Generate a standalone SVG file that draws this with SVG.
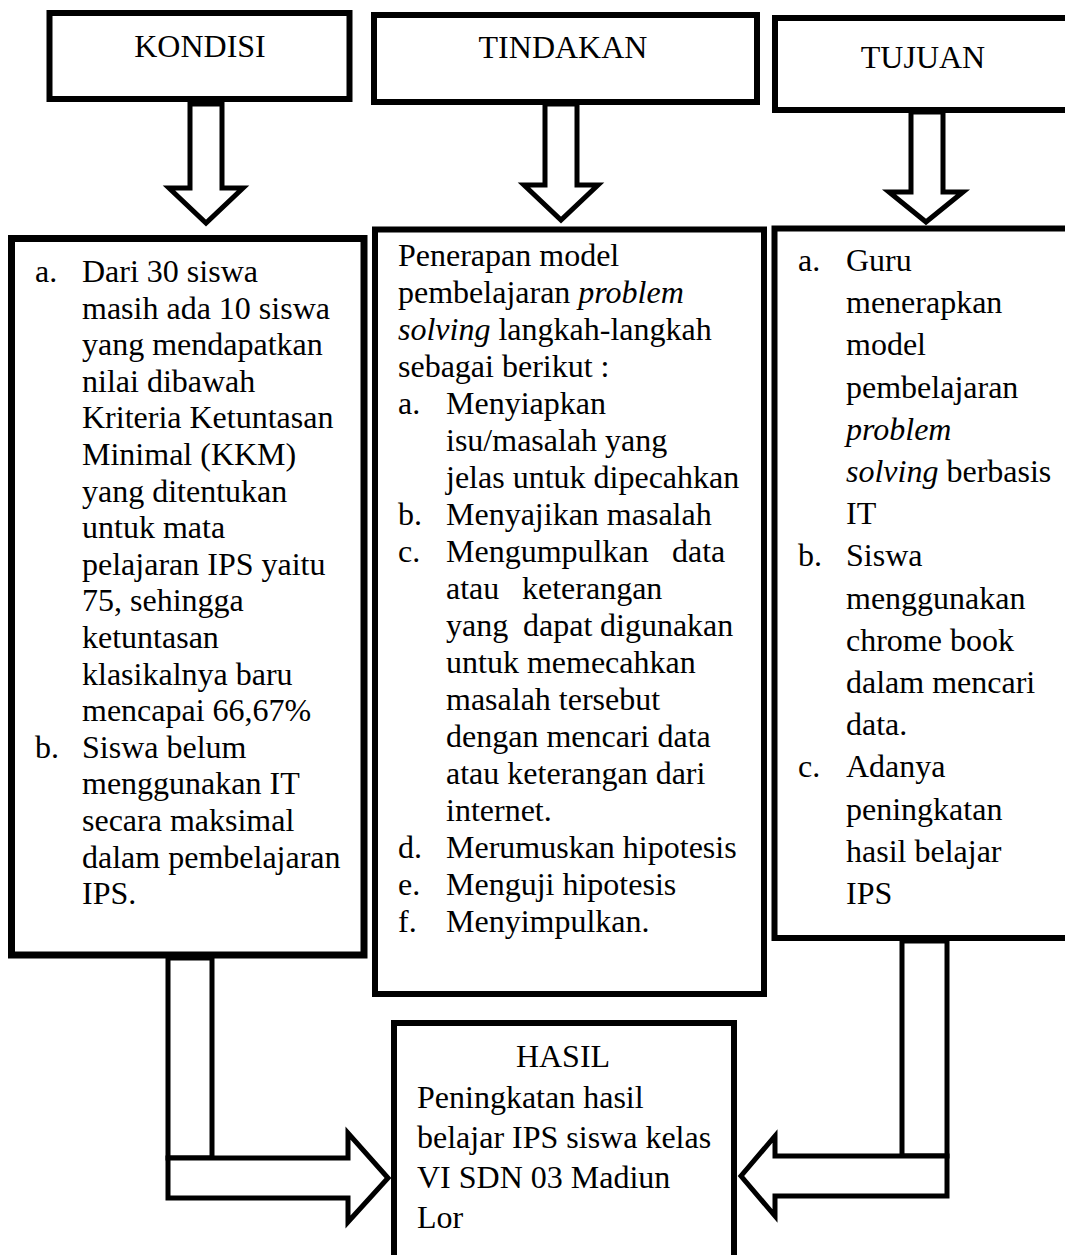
<svg xmlns="http://www.w3.org/2000/svg" width="1065" height="1255" viewBox="0 0 1065 1255">
<style>
.box{fill:#fff;stroke:#000;stroke-width:6}
.arrow{fill:#fff;stroke:#000;stroke-width:5;stroke-linejoin:miter}
text{font-family:"Liberation Serif","Times New Roman",serif;font-size:32px;fill:#000}
.c{text-anchor:middle}
.i{font-style:italic}
</style>
<rect width="1065" height="1255" fill="#fff"/>
<g id="kondisi">
<rect class="box" x="49.5" y="13" width="300" height="86"/>
<text class="c" x="200" y="57">KONDISI</text>
</g>
<g id="tindakan">
<rect class="box" x="374" y="15" width="383" height="87"/>
<text class="c" x="563" y="58">TINDAKAN</text>
</g>
<g id="tujuan">
<rect class="box" x="775" y="18" width="300" height="92"/>
<text class="c" x="923" y="68">TUJUAN</text>
</g>
<g id="kondisi-detail">
<rect class="box" style="stroke-width:7" x="11.5" y="238.5" width="352.5" height="716.5"/>
<text x="35" y="282">a.</text>
<text x="82" y="282">Dari 30 siswa</text>
<text x="82" y="318.6">masih ada 10 siswa</text>
<text x="82" y="355.2">yang mendapatkan</text>
<text x="82" y="391.8">nilai dibawah</text>
<text x="82" y="428.4">Kriteria Ketuntasan</text>
<text x="82" y="465">Minimal (KKM)</text>
<text x="82" y="501.6">yang ditentukan</text>
<text x="82" y="538.2">untuk mata</text>
<text x="82" y="574.8">pelajaran IPS yaitu</text>
<text x="82" y="611.4">75, sehingga</text>
<text x="82" y="648">ketuntasan</text>
<text x="82" y="684.6">klasikalnya baru</text>
<text x="82" y="721.2">mencapai 66,67%</text>
<text x="35" y="757.8">b.</text>
<text x="82" y="757.8">Siswa belum</text>
<text x="82" y="794.4">menggunakan IT</text>
<text x="82" y="831">secara maksimal</text>
<text x="82" y="867.6">dalam pembelajaran</text>
<text x="82" y="904.2">IPS.</text>
</g>
<g id="tindakan-detail">
<rect class="box" x="375" y="229.5" width="389" height="764.5"/>
<text x="398" y="266">Penerapan model</text>
<text x="398" y="303">pembelajaran <tspan class="i">problem</tspan></text>
<text x="398" y="340"><tspan class="i">solving</tspan> langkah-langkah</text>
<text x="398" y="377">sebagai berikut :</text>
<text x="398" y="414">a.</text>
<text x="446" y="414">Menyiapkan</text>
<text x="446" y="451">isu/masalah yang</text>
<text x="446" y="488">jelas untuk dipecahkan</text>
<text x="398" y="525">b.</text>
<text x="446" y="525">Menyajikan masalah</text>
<text x="398" y="562">c.</text>
<text x="446" y="562">Mengumpulkan</text>
<text x="672" y="562">data</text>
<text x="446" y="599">atau</text>
<text x="522" y="599">keterangan</text>
<text x="446" y="636">yang</text>
<text x="523" y="636">dapat</text>
<text x="600" y="636">digunakan</text>
<text x="446" y="673">untuk memecahkan</text>
<text x="446" y="710">masalah tersebut</text>
<text x="446" y="747">dengan mencari data</text>
<text x="446" y="784">atau keterangan dari</text>
<text x="446" y="821">internet.</text>
<text x="398" y="858">d.</text>
<text x="446" y="858">Merumuskan hipotesis</text>
<text x="398" y="895">e.</text>
<text x="446" y="895">Menguji hipotesis</text>
<text x="398" y="932">f.</text>
<text x="446" y="932">Menyimpulkan.</text>
</g>
<g id="tujuan-detail">
<rect class="box" x="774.5" y="228.5" width="300" height="709.5"/>
<text x="798" y="271">a.</text>
<text x="846" y="271">Guru</text>
<text x="846" y="313.2">menerapkan</text>
<text x="846" y="355.4">model</text>
<text x="846" y="397.6">pembelajaran</text>
<text x="846" y="439.8" class="i">problem</text>
<text x="846" y="482"><tspan class="i">solving</tspan> berbasis</text>
<text x="846" y="524.2">IT</text>
<text x="798" y="566.4">b.</text>
<text x="846" y="566.4">Siswa</text>
<text x="846" y="608.6">menggunakan</text>
<text x="846" y="650.8">chrome book</text>
<text x="846" y="693">dalam mencari</text>
<text x="846" y="735.2">data.</text>
<text x="798" y="777.4">c.</text>
<text x="846" y="777.4">Adanya</text>
<text x="846" y="819.6">peningkatan</text>
<text x="846" y="861.8">hasil belajar</text>
<text x="846" y="904">IPS</text>
</g>
<g id="hasil">
<rect class="box" x="394" y="1023" width="340" height="245"/>
<text class="c" x="563" y="1067">HASIL</text>
<text x="417" y="1108">Peningkatan hasil</text>
<text x="417" y="1148">belajar IPS siswa kelas</text>
<text x="417" y="1188">VI SDN 03 Madiun</text>
<text x="417" y="1228">Lor</text>
</g>
<g id="connectors">
<path class="arrow" d="M190,104 L222,104 L222,188 L243,188 L206,223 L169,188 L190,188 Z"/>
<path class="arrow" d="M545,104 L577,104 L577,185 L598,185 L561,220 L524,185 L545,185 Z"/>
<path class="arrow" d="M911,112 L943,112 L943,192 L963,192 L926,222 L889,192 L911,192 Z"/>
<rect class="arrow" x="168" y="958" width="44" height="200"/>
<path class="arrow" d="M168,1158 L348,1158 L348,1133 L388,1178 L348,1222 L348,1198 L168,1198 Z"/>
<rect class="arrow" x="902" y="941" width="45" height="215"/>
<path class="arrow" d="M947,1156 L775,1156 L775,1136 L741,1176 L775,1216 L775,1196 L947,1196 Z"/>
</g>
</svg>
